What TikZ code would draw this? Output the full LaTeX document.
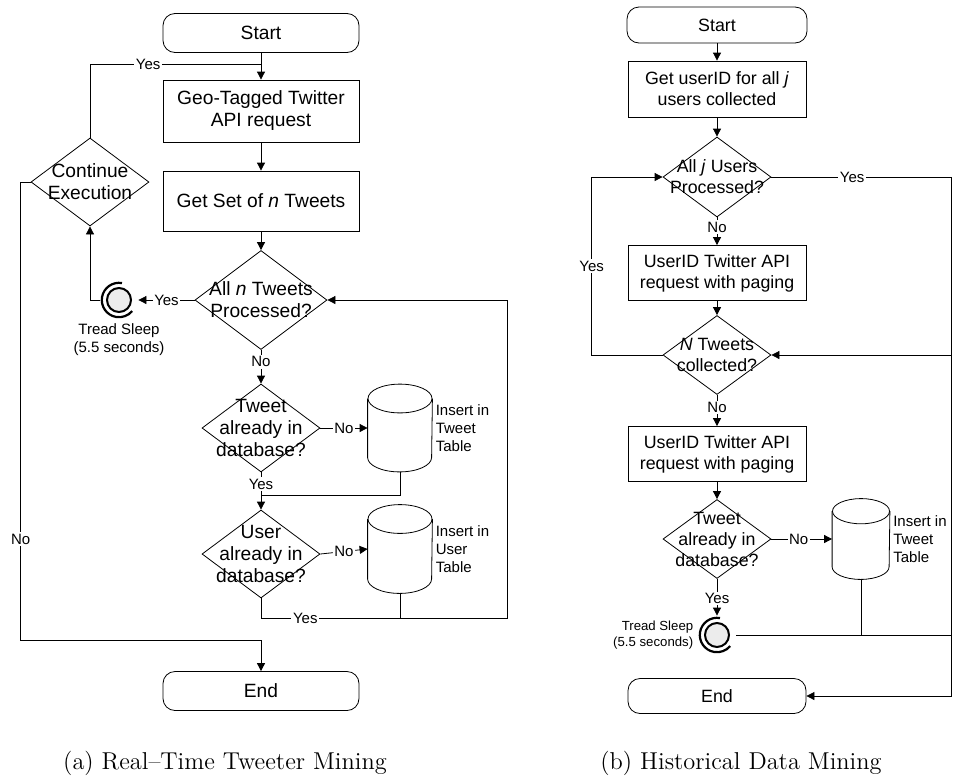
\documentclass[tikz,border=0pt]{standalone}
\usepackage{fontspec}
\usetikzlibrary{shapes.geometric, arrows.meta, calc}
\newfontfamily\arial{Liberation Sans}
\newcommand{\txtA}{\arial\fontsize{9.6}{11}\selectfont}
\newcommand{\txtB}{\arial\fontsize{8.9}{10.5}\selectfont}
\newcommand{\txtS}{\arial\fontsize{7.5}{9}\selectfont}
\newcommand{\txtT}{\arial\fontsize{6.6}{8}\selectfont}
% outline of a table drum: node, x radius, y radius
\newcommand{\dbdraw}[3]{%
  \draw ([yshift=-#3]#1.north) ellipse[x radius=#2, y radius=#3];
  \draw ([yshift=-#3]#1.north west) -- ([yshift=#3]#1.south west)
        arc[start angle=180, end angle=360, x radius=#2, y radius=#3] -- ([yshift=-#3]#1.north east);
}

\tikzset{
  term/.style={draw, rectangle, rounded corners=6pt, inner sep=0pt},
  proc/.style={draw, rectangle, inner sep=0pt, align=center},
  decision/.style={draw, diamond, inner sep=0pt},
  db/.style={rectangle, inner sep=0pt},
  sleep/.style={circle, inner sep=0pt, minimum size=19pt,
    path picture={
      \draw[line width=1pt, fill=gray!15] (path picture bounding box.center) circle[radius=6pt];
      \draw[line width=1.1pt] ($(path picture bounding box.center)+(80:8.6pt)$) arc[start angle=80, end angle=320, radius=8.6pt];
    }},
  arr/.style={-{Triangle[length=4pt,width=4pt]}},
  lbl/.style={fill=white, inner sep=0.8pt, font=\txtS},
}

\begin{document}
\begin{tikzpicture}[x=0.5pt, y=-0.5pt]
    \useasboundingbox (0,0) rectangle (953,782);

    % (a) real-time mining
    \node[term, minimum width=98pt, minimum height=19.5pt, font=\txtA] (startA) at (261,33) {Start};
    \node[proc, minimum width=98pt, minimum height=31pt, font=\txtA] (geoA) at (261,111) {Geo-Tagged Twitter\\API request};
    \node[proc, minimum width=98pt, minimum height=30pt, font=\txtA] (setA) at (261,201) {Get Set of \textit{n} Tweets};
    \node[decision, minimum width=59pt, minimum height=44pt,
          label={[font=\txtA, align=center]center:Continue\\Execution}] (contA) at (90,182) {};
    \node[decision, minimum width=66pt, minimum height=49.5pt,
          label={[font=\txtA, align=center]center:All \textit{n} Tweets\\Processed?}] (allA) at (261,300) {};
    \node[sleep, label={[font=\txtS, align=center, inner sep=2pt]below:Tread Sleep\\(5.5 seconds)}] (sleepA) at (119,300) {};
    \node[decision, minimum width=59pt, minimum height=44pt,
          label={[font=\txtA, align=center]center:Tweet\\already in\\database?}] (tweetA) at (261,428) {};
    \node[db, minimum width=32pt, minimum height=43.5pt,
          label={[font=\txtS, align=left, inner sep=1.5pt]east:Insert in\\Tweet\\Table}] (tabA1) at (400,428) {};
    \node[decision, minimum width=59pt, minimum height=44pt,
          label={[font=\txtA, align=center]center:User\\already in\\database?}] (userA) at (261,554) {};
    \node[db, minimum width=32pt, minimum height=44pt,
          label={[font=\txtS, align=left, inner sep=1.5pt]east:Insert in\\User\\Table}] (tabA2) at (400,549) {};
    \node[term, minimum width=98pt, minimum height=19.5pt, font=\txtA] (endA) at (261,691) {End};
    \dbdraw{tabA1}{16pt}{7.2pt}
    \dbdraw{tabA2}{16pt}{7.2pt}

    \draw[arr] (startA) -- (geoA);
    \draw (contA.north) |- node[lbl, pos=0.67] {Yes} ($(startA.south)!0.43!(geoA.north)$);
    \draw[arr] (geoA) -- (setA);
    \draw[arr] (setA) -- (allA);
    \draw[arr] (allA.west) -- node[lbl] {Yes} (sleepA.east);
    \draw[arr] (sleepA.west) -| (contA.south);
    \draw[arr] (contA.west) -- ++(-10,0) |- node[lbl, pos=0.39] {No} ($(endA.north)+(0,-31)$) -- (endA.north);
    \draw[arr] (allA.south) -- node[lbl, pos=0.35] {No} (tweetA.north);
    \draw[arr] (tweetA.east) -- node[lbl] {No} (tabA1.west);
    \draw[arr] (tweetA.south) -- node[lbl, pos=0.32] {Yes} (userA.north);
    \draw (tabA1.south) |- ($(tweetA.south)!0.63!(userA.north)$);
    \draw[arr] (userA.east) -- node[lbl] {No} (tabA2.west);
    \draw[arr] (userA.south) |- node[lbl, pos=0.59] {Yes} ++(246,20) |- (allA.east);
    \draw (tabA2.south) -- ++(0,25);

    \node[font=\fontsize{12.2}{14}\selectfont] (capA) at (225,763) {(a) Real--Time Tweeter Mining};

    % (b) historical mining
    \coordinate (railB) at (951,0);
    \node[term, minimum width=90pt, minimum height=18pt, font=\txtB] (startB) at (717,25) {Start};
    \node[proc, minimum width=89pt, minimum height=28pt, font=\txtB] (getB) at (717,89) {Get userID for all \textit{j}\\users collected};
    \node[decision, minimum width=54pt, minimum height=40pt,
          label={[font=\txtB, align=center]center:All \textit{j} Users\\Processed?}] (allB) at (717,177) {};
    \node[proc, minimum width=89pt, minimum height=27.5pt, font=\txtB] (reqB1) at (717,273) {UserID Twitter API\\request with paging};
    \node[decision, minimum width=54pt, minimum height=39.5pt,
          label={[font=\txtB, align=center]center:\textit{N} Tweets\\collected?}] (numB) at (717,355) {};
    \node[proc, minimum width=89pt, minimum height=27.5pt, font=\txtB] (reqB2) at (717,454) {UserID Twitter API\\request with paging};
    \node[decision, minimum width=54pt, minimum height=39.5pt,
          label={[font=\txtB, align=center]center:Tweet\\already in\\database?}] (tweetB) at (717,539) {};
    \node[db, minimum width=28.5pt, minimum height=40pt,
          label={[font=\txtS, align=left, inner sep=1.5pt]east:Insert in\\Tweet\\Table}] (tabB) at (861,539) {};
    \node[sleep, label={[font=\txtT, align=right, inner sep=2pt]west:Tread Sleep\\(5.5 seconds)}] (sleepB) at (717,635) {};
    \node[term, minimum width=89pt, minimum height=17.5pt, font=\txtB] (endB) at (717,696) {End};
    \dbdraw{tabB}{14.25pt}{6.3pt}

    \draw[arr] (startB) -- (getB);
    \draw[arr] (getB) -- (allB);
    \draw[arr] (allB.east) -- node[lbl, pos=0.45] {Yes} (allB.east -| railB) |- (endB.east);
    \draw[arr] (allB.south) -- node[lbl, pos=0.35] {No} (reqB1.north);
    \draw[arr] (reqB1) -- (numB);
    \draw[arr] (numB.west) -- ++(-71,0) |- node[lbl, pos=0.25] {Yes} (allB.west);
    \draw[arr] (numB.south) -- node[lbl, pos=0.4] {No} (reqB2.north);
    \draw[arr] (reqB2) -- (tweetB);
    \draw[arr] (tweetB.east) -- node[lbl, pos=0.45] {No} (tabB.west);
    \draw[arr] (tweetB.south) -- node[lbl, pos=0.53] {Yes} (sleepB.north);
    \draw[arr] (sleepB.east) -- (sleepB.east -| railB) |- (numB.east);
    \draw (tabB.south) -- (tabB.south |- sleepB.east);

    \node[font=\fontsize{12.2}{14}\selectfont] (capB) at (741,763) {(b) Historical Data Mining};
\end{tikzpicture}
\end{document}
